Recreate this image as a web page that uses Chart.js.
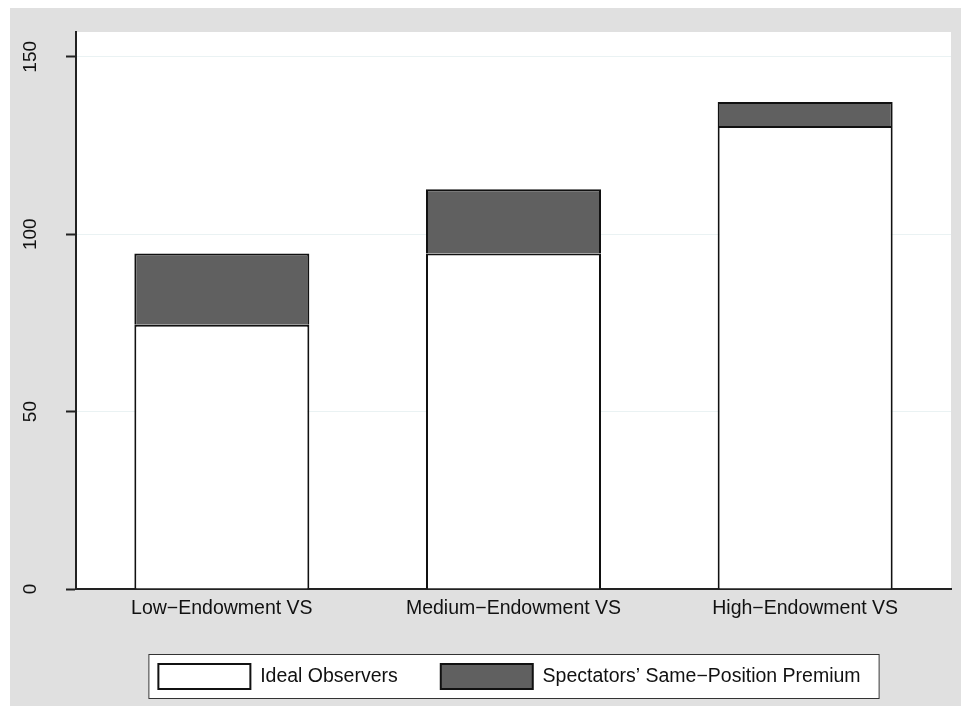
<!DOCTYPE html>
<html>
<head>
<meta charset="utf-8">
<script src="https://cdn.jsdelivr.net/npm/chart.js"></script>
<style>
  html, body { margin: 0; padding: 0; background: #ffffff; }
  #wrap { position: absolute; left: 0; top: 0; width: 961px; height: 706px; }
</style>
</head>
<body>
<div id="wrap"><canvas id="endowmentChart"></canvas></div>
<script>
// bar chart: ideal observers vs spectators' same-position premium

const categories = ['Low\u2212Endowment VS', 'Medium\u2212Endowment VS', 'High\u2212Endowment VS'];
const idealObservers = [74.5, 94.6, 130.5];
const samePositionPremium = [20.1, 18.1, 6.8];
const yTicks = [0, 50, 100, 150];

const FONT = "'Liberation Sans', Arial, Helvetica, sans-serif";

// gray graph region, white plot area and the framed white legend box
const backdrop = {
    id: 'backdrop',
    afterLayout(chart) {
        // nudge the legend a little left so it sits like the original
        const lg = chart.legend;
        if (lg) { lg.left -= 4; lg.right -= 4; }
    },
    beforeDraw(chart) {
        const { ctx, chartArea } = chart;
        ctx.save();
        ctx.fillStyle = '#e0e0e0';
        ctx.fillRect(10, 8, chart.width - 10, chart.height - 8);
        ctx.fillStyle = '#ffffff';
        ctx.fillRect(chartArea.left, chartArea.top, chartArea.right - chartArea.left, chartArea.bottom - chartArea.top);

        const lg = chart.legend;
        if (lg && lg.legendHitBoxes && lg.legendHitBoxes.length) {
            const boxes = lg.legendHitBoxes;
            const first = boxes[0];
            const last = boxes[boxes.length - 1];
            const left = first.left - 10;
            const right = last.left + last.width + 19;
            const top = first.top - 10;
            const bottom = first.top + first.height + 10;
            ctx.fillRect(left, top, right - left, bottom - top);
            ctx.strokeStyle = '#333333';
            ctx.lineWidth = 1;
            ctx.strokeRect(left + 0.5, top + 0.5, right - left - 1, bottom - top - 1);
        }
        ctx.restore();
    }
};

new Chart(document.getElementById('endowmentChart'), {
    type: 'bar',
    data: {
        labels: categories,
        datasets: [{
            label: 'Ideal Observers',
            data: idealObservers,
            backgroundColor: '#ffffff',
            borderColor: '#111111',
            borderWidth: 2,
            borderSkipped: 'start',
            stack: 'vs'
        }, {
            label: 'Spectators\u2019 Same\u2212Position Premium',
            data: samePositionPremium,
            backgroundColor: '#606060',
            borderColor: '#111111',
            borderWidth: 2,
            borderSkipped: 'start',
            stack: 'vs'
        }]
    },
    options: {
        responsive: true,
        maintainAspectRatio: false,
        animation: false,
        devicePixelRatio: 1,
        barPercentage: 0.6,
        categoryPercentage: 1.0,
        layout: { padding: { top: 32, right: 10, bottom: 7, left: 0 } },
        plugins: {
            tooltip: { enabled: false },
            legend: {
                position: 'bottom',
                fullSize: false,
                labels: {
                    boxWidth: 92,
                    boxHeight: 25,
                    padding: 43,
                    color: '#111111',
                    font: { family: FONT, size: 19.5 }
                }
            }
        },
        scales: {
            x: {
                stacked: true,
                grid: { display: false },
                border: { display: true, color: '#222222', width: 2 },
                ticks: {
                    color: '#111111',
                    padding: 0,
                    maxRotation: 0,
                    font: { family: FONT, size: 19.5 }
                },
                afterFit(scale) { scale.height = 32; }
            },
            y: {
                stacked: true,
                min: 0,
                max: 157,
                afterBuildTicks(scale) { scale.ticks = yTicks.map(v => ({ value: v })); },
                grid: {
                    color: c => (c.tick && c.tick.value === 0) ? 'rgba(0,0,0,0)' : '#eaf2f3',
                    lineWidth: 1,
                    tickColor: '#222222',
                    tickWidth: 2,
                    tickLength: 10
                },
                border: { display: true, color: '#222222', width: 2 },
                ticks: {
                    color: '#111111',
                    padding: 19,
                    minRotation: 90,
                    maxRotation: 90,
                    crossAlign: 'center',
                    font: { family: FONT, size: 19 }
                },
                afterFit(scale) { scale.width = 76; }
            }
        }
    },
    plugins: [backdrop]
});
</script>
</body>
</html>
